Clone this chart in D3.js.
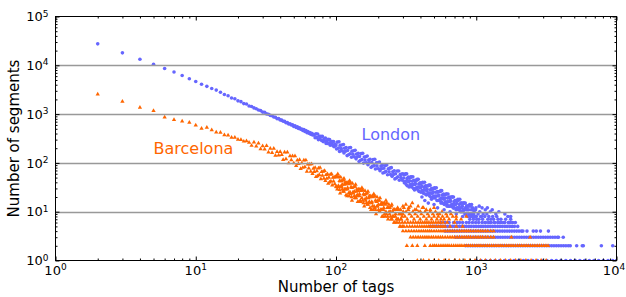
<!DOCTYPE html>
<html>
<head>
<meta charset="utf-8">
<script src="https://cdn.jsdelivr.net/npm/d3@7"></script>
<style>
  html, body { margin: 0; padding: 0; background: #fff; }
  #chart { width: 626px; height: 297px; }
  text { font-family: "DejaVu Sans", sans-serif; }
</style>
</head>
<body>
<div id="chart"></div>
<script>
// tick decades (exponents of 10) and minor steps
const xExponents = [0, 1, 2, 3, 4];
const yExponents = [0, 1, 2, 3, 4, 5];
const gridExponents = [1, 2, 3, 4];
const minorSteps = [2, 3, 4, 5, 6, 7, 8, 9];

// [number of tags, number of segments]
const londonHead = [[2,27500],[3,18000],[4,13300],[5,10500],[6,8600],[7,7300],[8,6200],[9,5300],[10,4650],[11,4100],[12,3700],[13,3350],[14,3100],[15,2800],[16,2520],[17,2370],[18,2140],[19,2060],[20,1870],[21,1800],[22,1640],[23,1610],[24,1470],[25,1430],[26,1340],[27,1290],[28,1210],[29,1180],[30,1100],[31,1090],[32,1010],[33,990],[34,940],[35,925],[36,870],[37,860],[38,805],[39,808],[40,760],
  [41,752],[42,712],[43,710],[44,665],[45,668],[46,628],[47,634],[48,596],[49,602],[50,560],[51,578],[52,532],[53,548],[54,508],[55,522],[56,490],[57,496],[58,462],[59,480],[60,440],[61,462],[62,418],[63,440],[64,405],[65,418],[66,386],[67,404],[68,372],[69,384],
  [70,371],[71,328],[72,394],[73,330],[74,390],[75,298],[76,350],[77,314],[78,351],[79,288],[80,349],[81,273],[82,308],[83,282],[84,324],[85,251],[86,283],[87,251],[88,303],[89,255],[90,302],[91,231],[92,272],[93,245],[94,275],[95,226],[96,274],[97,215],[98,244],[99,224]];

const londonBody = [[100,233],[101,193],[102,267],[104,201],[105,270],[106,172],[107,229],[109,196],[110,233],[111,175],[113,238],[114,159],[115,199],[117,174],[118,207],[120,141],[121,179],[123,147],[124,204],[126,154],[127,207],[129,131],[130,174],[132,150],[134,177],[135,133],[137,182],[139,121],[140,152],[142,133],[144,157],[146,107],[147,136],[149,112],[151,155],[153,117],[155,157],[157,99],[159,132],[161,114],[163,134],[165,101],[167,138],[169,92],[171,114],[173,101],[175,119],[178,81],[180,102],[182,85],[184,117],[187,88],[189,119],[191,75],[194,100],[196,86],[199,101],[201,76],[204,104],[206,69],[209,86],[211,76],[214,90],[216,62],[219,78],[222,64],[225,88],[227,67],[230,91],[233,57],[236,76],[239,66],[242,78],[245,58],[248,80],[251,53],[254,66],[257,58],[260,69],[263,47],[266,60],[270,49],[273,68],[276,52],[280,68],[283,44],[287,58],[290,50],[294,59],[297,44],[300,60],
  [304,49],[307,39],[311,58],[315,42],[319,60],[322,34],[326,49],[330,41],[334,50],[338,36],[342,52],[346,32],[350,42],[355,36],[359,44],[363,28],[368,38],[372,30],[377,44],[381,32],[386,46],[391,26],[395,37],[400,31],[405,38],[410,27],[415,40],[420,24],[425,32],[430,28],[435,34],[441,22],[446,29],[451,23],[457,34],[462,24],[468,35],[474,20],[479,29],[485,24],[491,29],[497,21],[503,31],[509,19],[515,25],[522,21],[528,26],[534,17],[541,22],[547,17],[554,26],[561,19],[567,27],[574,15],[581,22],[588,18],[595,22],[603,16],[610,23],[617,14],[625,19],[632,16],[640,20],[648,13],[656,17],[664,13],[672,20],[680,14],[688,20],[697,12],[705,17],[714,14],[722,17],[731,12],[740,18],[749,11],[758,14],[767,12],[777,15],[786,10],[796,13],[805,10],[815,15],[825,11],[835,15],[845,9],[855,13],[866,11],[876,13],[887,9],[898,14],[909,8],[920,11],[931,9],[942,12],[954,7],[965,10],[977,8],[989,11],[1001,8],
  [306,57],[309,41],[313,60],[317,36],[321,48],[324,42],[328,51],[332,32],[336,43],[340,34],[344,51],[348,36],[353,52],[357,30],[361,43],[366,36],[370,44],[375,31],[379,46],[384,28],[389,37],[393,32],[398,39],[403,25],[408,33],[413,26],[418,39],[423,28],[428,40],[433,23],[438,33],[444,27],[449,34],[454,24],[460,35],[465,21],[471,28],[477,24],[482,30],[488,19],[494,25],[500,20],[506,30],[512,21],[519,31],[525,17],[531,25],[538,21],[544,26],[551,18],[558,27],[564,16],[571,22],[578,19],[585,23],[592,14],[599,19],[607,15],[614,23],[621,16],[629,23],[636,13],[644,19],[652,16],[660,20],[668,14],[676,20],[684,12],[693,16],[701,14],[710,17],[718,11],[727,15],[736,12],[745,17],[754,12],[763,18],[772,10],[782,15],[791,12],[801,15],[810,11],[820,15],[830,9],[840,12],[850,11],[861,13],[871,8],[882,11],[893,9],[904,13],[915,9],[926,14],[937,8],[948,11],[960,9],[971,11],[983,8],[995,12],[1007,7]];

const londonTail = [[1030,9],[1045,7],[1060,10],[1075,8],[1090,8],[1110,7],[1120,9],[1150,8],[1165,6],[1190,9],[1210,7],[1230,8],[1250,6],[1270,7],[1310,8],[1330,7],[1350,6],[1400,8],[1430,7],[1450,6],[1500,7],[1560,6],[1620,7],[1700,6],[1760,7],
  [1050,13],[1100,12],[1160,11],[1200,12],[1260,10],[1300,11],[1380,9],[1450,10],[1600,9],[1680,8],[1760,8],[1820,6],[1900,6],
  [410,20],[430,17],[455,15],[480,18],[500,14],[530,12],[560,15],[590,11],[620,13],[650,10],[690,12],[720,9],[760,11],[800,8],[840,9],[900,7],[950,8]];

// low-count rows: tags that have exactly that many segments
const londonRowCounts = [1, 2, 3, 4, 5, 6];
const londonRowTags = [
  [1000,1080,1170,1260,1360,1470,1590,1720,1860,2010,2170,2340,2530,2730,2950,3190,3450,3720,4020,4350,4700,5070,5480,5920,6400,6910,7460,8060,8710,9400,10000],
  [840,873,908,944,982,1021,1062,1104,1148,1194,1242,1292,1343,1397,1453,1511,1571,1634,1699,1767,1838,1911,1988,2067,2150,2236,2325,2418,2515,2616,2720,2829,2942,3060,3182,3309,3442,3579,3723,3871,4026,4187,4355,4529,4680,5200,5700,5800,7800,9400],
  [710,738,767,797,829,862,896,931,968,1006,1046,1088,1131,1176,1222,1271,1321,1374,1428,1485,1544,1605,1669,1735,1804,1876,1951,2028,2109,2193,2280,2371,2465,2564,2666,2772,2882,2997,3117,3241,3370,3505,3645,3790,3860,4170],
  [600,625,650,675,700,728,757,787,819,852,886,921,958,996,1036,1078,1121,1166,1212,1261,1311,1364,1418,1475,1534,1595,1659,1725,1794,1866,1941,2018,2099,2150,2300,2550,2680,2870,3270],
  [470,490,510,530,555,575,600,625,650,675,700,730,760,790,820,850,885,920,960,1000,1040,1080,1120,1165,1210,1260,1310,1365,1420,1475,1535,1600,1660,1730,1800,1870,1975],
  [560,600,640,690,730,760,800,850,890,940,990,1040,1100,1150,1220,1280,1350,1420,1500,1600,1700,1760]
];

const barcelonaHead = [[2,2560],[3,1810],[4,1365],[5,1167],[6,863],[7,764],[8,715],[9,673],[10,593],[11,507],[12,531],[13,470],[14,425],[15,418],[16,372],[17,368],[18,332],[19,330],[20,302],[21,298],[22,276],[23,280],
  [24,261],[25,226],[26,266],[27,219],[28,252],[29,192],[30,222],[31,190],[32,225],[33,165],[34,198],[35,161],[36,197],[37,142],[38,170],[39,143],[40,169],
  [41,147],[42,116],[43,166],[44,120],[45,166],[46,99],[47,138],[48,115],[49,138],[50,99],[51,139],[52,87],[53,113],[54,96],[55,116],[56,76],[57,99],[58,80],[59,113],[60,82],[61,114],[62,67],[63,94],[64,78],[65,94],[66,67],[67,95],[68,60],[69,77],[70,66],[71,80],[72,52],[73,68],[74,54],[75,78],[76,57],[77,80],[78,47],[79,66],[80,55],[81,67],[82,48],[83,69],[84,43],[85,57],[86,48],[87,59],[88,38],[89,50],[90,40],[91,58],[92,42],[93,59],[94,35],[95,50],[96,42],[97,51],[98,37],[99,52],[100,33]];

const barcelonaBody = [[101,32],[102,51],[104,34],[105,52],[106,28],[107,42],[109,34],[110,43],[111,29],[113,45],[114,26],[115,36],[117,29],[118,37],[120,21],[121,31],[123,24],[124,37],[126,25],[127,39],[129,20],[130,31],[132,25],[134,32],[135,21],[137,33],[139,19],[140,26],[142,22],[144,27],[146,16],[147,23],[149,17],[151,27],[153,19],[155,28],[157,15],[159,22],[161,18],[163,23],[165,15],[167,24],[169,14],[171,19],[173,16],[175,20],[178,11],[180,16],[182,13],[184,20],[187,13],[189,21],[191,11],[194,16],[196,13],[199,17],[201,11],[204,17],[206,10],[209,14],[211,11],[214,14],[216,8],[219,12],[222,9],[225,14],[227,10],[230,15],[233,8],[236,12],[239,10],[242,12],[245,8],[248,13],[251,7],[254,10],[257,8],[260,11],[263,6],[266,9],[270,7],[273,11],[276,7],[280,11],[283,6],[287,9],[290,7],[294,9],[297,6],[300,9],
  [101,54],[102,29],[103,59],[105,32],[106,43],[107,24],[108,51],[110,32],[111,36],[112,26],[114,48],[115,29],[116,40],[118,22],[119,39],[121,29],[122,40],[124,21],[125,43],[127,23],[128,32],[130,17],[131,38],[133,24],[135,26],[136,19],[138,36],[140,21],[141,29],[143,16],[145,29],[147,21],[148,29],[150,16],[153,31],[155,17],[157,23],[159,13],[161,27],[163,17],[165,19],[167,14],[169,26],[171,15],[173,21],[175,12],[177,21],[180,15],[182,21],[184,11],[186,23],[189,12],[191,17],[193,9],[196,20],[198,13],[201,14],[203,10],[206,19],[208,11],[211,15],[213,8],[216,15],[218,11],[221,15],[224,8],[227,17],[229,9],[232,12],[235,7],[238,14],[241,9],[244,10],[247,7],[250,14],[253,8],[256,11],[259,6],[262,11],[265,8],[268,11],[272,6],[275,12],[278,7],[282,9],[285,5],[289,11],[292,7],[296,8],[299,5],[302,10]];

const barcelonaTail = [[305,12],[310,8],[316,10],[322,7],[328,11],[334,9],[340,13],[346,8],[353,10],[360,7],[367,9],[374,11],[382,8],[390,10],[398,7],[406,9],[414,12],[423,8],[432,10],[441,7],[450,9],[460,8],[470,11],[480,7],[490,9],[500,8],[512,10],[524,7],[536,8],[548,9],[560,7],[575,8],[590,7],[610,9],[640,7],[680,8],[720,7],[780,7],[850,8],
  [300,13],[315,14],[330,12],[350,15],[365,11],[385,13],[400,10],[420,12],[440,11],[470,10],[500,12],[530,9],[570,10],[620,8],[660,9],[720,8]];

const barcelonaRowCounts = [1, 2, 3, 4, 5, 6];
const barcelonaRowTags = [
  [380,420,460,500,540,590,640,700,760,830,900,980,1070,1160,1260,1370,1490,1620,1760,1910,2080,2260,2460,2670,2900,3150],
  [320,350,380,430,470,490,505,520,540,560,580,600,620,640,665,690,715,740,765,790,820,850,880,910,940,975,1010,1045,1080,1120,1160,1200,1240,1285,1330,1380,1430,1480,1530,1590,1650,1710,1770,1830,1900,1970,2040,2110,2190,2270,2350,2440,2530,2620,2720,2820,2920,3030,3140,3250],
  [340,355,370,385,400,415,430,445,460,478,495,515,535,555,575,600,625,650,675,700,730,760,790,820,850,880,910,950,990,1030,1070,1110,1160,1210,1270,1330,1780,2420],
  [300,315,330,345,360,375,390,405,420,435,450,465,480,500,520,540,560,580,600,625,650,675,700,730,760,790,820,850,880,910,950,990,1030,1070,1110,1160,1210,1270,1330],
  [290,305,320,335,350,365,380,395,410,425,440,455,470,485,500,520,540,560,580,600,650,720,800],
  [310,325,340,355,370,385,400,415,430,445,460,478,495,515,535,555,580,620,700]
];

// series labels placed in data coordinates
const seriesLabels = [
  { name: "London", tags: 152, segments: 290, color: "#6666ff" },
  { name: "Barcelona", tags: 5, segments: 153, color: "#ff6600" }
];

function withRows(points, counts, rows) {
  const out = points.slice();
  counts.forEach((c, i) => rows[i].forEach(t => out.push([t, c])));
  return out;
}

function draw() {
  const w = 626, h = 297;
  const left = 55.5, right = 616.5, top = 16.5, bottom = 260.5;

  d3.select("#chart").selectAll("svg").remove();

  const london = withRows(londonHead.concat(londonBody, londonTail), londonRowCounts, londonRowTags);
  const barcelona = withRows(barcelonaHead.concat(barcelonaBody, barcelonaTail), barcelonaRowCounts, barcelonaRowTags);

  const svg = d3.select("#chart")
    .append("svg")
    .attr("width", w)
    .attr("height", h);

  const xScale = d3.scaleLog().domain([1, 1e4]).range([left, right]);
  const yScale = d3.scaleLog().domain([1, 1e5]).range([bottom, top]);

  svg.append("clipPath").attr("id", "plot-clip")
    .append("rect")
    .attr("x", left).attr("y", top)
    .attr("width", right - left).attr("height", bottom - top);

  const plot = svg.append("g").attr("clip-path", "url(#plot-clip)");

  plot.append("g").selectAll("circle")
    .data(london)
    .join("circle")
    .attr("cx", d => xScale(d[0]))
    .attr("cy", d => yScale(d[1]))
    .attr("r", 1.8)
    .attr("fill", "#6666ff");

  const tri = d3.symbol(d3.symbolTriangle, 8);
  plot.append("g").selectAll("path")
    .data(barcelona)
    .join("path")
    .attr("transform", d => `translate(${xScale(d[0])},${yScale(d[1])})`)
    .attr("d", tri)
    .attr("fill", "#ff6600");

  // horizontal grid, drawn over the markers like the classic style
  svg.append("g").selectAll("line")
    .data(gridExponents)
    .join("line")
    .attr("x1", left).attr("x2", right)
    .attr("y1", d => Math.round(yScale(Math.pow(10, d))) + 0.5)
    .attr("y2", d => Math.round(yScale(Math.pow(10, d))) + 0.5)
    .attr("stroke", "#999")
    .attr("stroke-width", 1.3);

  const xMajor = xExponents.map(e => Math.pow(10, e));
  const yMajor = yExponents.map(e => Math.pow(10, e));
  const xMinor = xExponents.slice(0, -1).flatMap(e => minorSteps.map(s => s * Math.pow(10, e)));
  const yMinor = yExponents.slice(0, -1).flatMap(e => minorSteps.map(s => s * Math.pow(10, e)));

  const axes = [
    [d3.axisBottom(xScale), `translate(0,${bottom})`, xMajor, xMinor],
    [d3.axisTop(xScale), `translate(0,${top})`, xMajor, xMinor],
    [d3.axisLeft(yScale), `translate(${left},0)`, yMajor, yMinor],
    [d3.axisRight(yScale), `translate(${right},0)`, yMajor, yMinor]
  ];
  axes.forEach(([axis, tr, major, minor]) => {
    const gMaj = svg.append("g").attr("transform", tr)
      .call(axis.tickValues(major).tickSize(-4).tickFormat(""));
    gMaj.select(".domain").remove();
    const gMin = svg.append("g").attr("transform", tr)
      .call(axis.tickValues(minor).tickSize(-2).tickFormat(""));
    gMin.select(".domain").remove();
  });
  svg.selectAll(".tick line").attr("stroke", "#000");

  svg.append("rect")
    .attr("x", left).attr("y", top)
    .attr("width", right - left).attr("height", bottom - top)
    .attr("fill", "none")
    .attr("stroke", "#000")
    .attr("stroke-width", 1);

  // tick labels as 10^n; the last one is kept inside the page
  const xLab = svg.append("g").selectAll("text")
    .data(xExponents)
    .join("text")
    .attr("x", d => Math.min(xScale(Math.pow(10, d)), w - 12))
    .attr("y", 275)
    .attr("text-anchor", "middle")
    .attr("font-size", 13)
    .attr("fill", "#000");
  xLab.append("tspan").text("10");
  xLab.append("tspan").attr("dy", -5.5).attr("font-size", 9).text(d => d);

  const yLab = svg.append("g").selectAll("text")
    .data(yExponents)
    .join("text")
    .attr("x", 48.5)
    .attr("y", d => yScale(Math.pow(10, d)) + 4.6)
    .attr("text-anchor", "end")
    .attr("font-size", 13)
    .attr("fill", "#000");
  yLab.append("tspan").text("10");
  yLab.append("tspan").attr("dy", -4.5).attr("font-size", 9).text(d => d);

  svg.append("text")
    .attr("x", (left + right) / 2)
    .attr("y", 292)
    .attr("text-anchor", "middle")
    .attr("font-size", 15)
    .text("Number of tags");

  svg.append("text")
    .attr("transform", `translate(19,${(top + bottom) / 2}) rotate(-90)`)
    .attr("text-anchor", "middle")
    .attr("font-size", 15)
    .text("Number of segments");

  svg.append("g").selectAll("text")
    .data(seriesLabels)
    .join("text")
    .attr("x", d => xScale(d.tags))
    .attr("y", d => yScale(d.segments))
    .attr("font-size", 16)
    .attr("fill", d => d.color)
    .text(d => d.name);
}

draw();
</script>
</body>
</html>
